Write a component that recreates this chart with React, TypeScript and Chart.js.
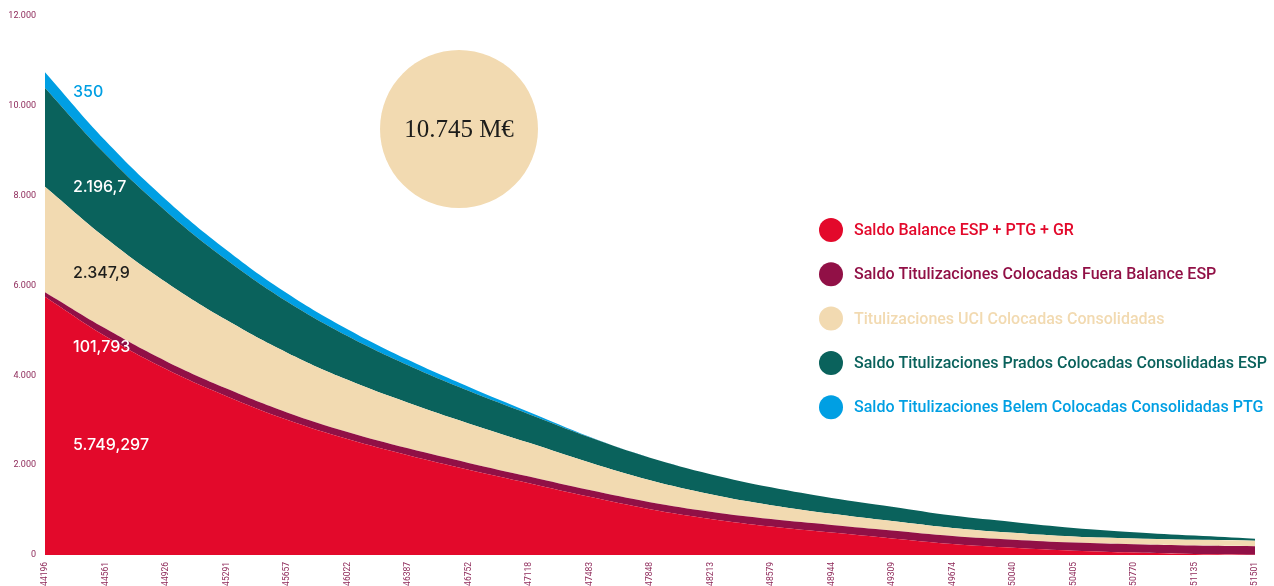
import React, { useEffect, useRef } from "react";
import { Chart, registerables } from "chart.js";

Chart.register(...registerables);

// Year-end dates (serial day numbers) on the horizontal axis
const periods = [
  "44196", "44561", "44926", "45291", "45657", "46022", "46387", "46752", "47118", "47483",
  "47848", "48213", "48579", "48944", "49309", "49674", "50040", "50405", "50770", "51135", "51501",
];

// Outstanding balances, millions of euros
const saldoBalance = [5749.297, 4870, 4140, 3535, 3010, 2580, 2220, 1900, 1599, 1295, 1021, 804, 634, 500, 370, 245, 160, 95, 55, 25, 8];
const fueraBalance = [101.793, 170, 175, 170, 165, 160, 155, 150, 148, 150, 155, 160, 165, 170, 175, 178, 180, 182, 183, 184, 185];
const uciConsolidadas = [2347.9, 2020, 1760, 1525, 1330, 1160, 1015, 880, 751, 615, 490, 391, 311, 248, 210, 180, 155, 135, 130, 128, 126];
const pradosConsolidadas = [2196.7, 1860, 1580, 1345, 1140, 975, 835, 725, 637, 560, 499, 444, 396, 353, 320, 275, 240, 190, 140, 95, 45];
const belemConsolidadas = [350, 300, 255, 215, 180, 150, 120, 90, 50, 15, 0, 0, 0, 0, 0, 0, 0, 0, 0, 0, 0];

const seriesNames = [
  "Saldo Balance ESP + PTG + GR",
  "Saldo Titulizaciones Colocadas Fuera Balance ESP",
  "Titulizaciones UCI Colocadas Consolidadas",
  "Saldo Titulizaciones Prados Colocadas Consolidadas ESP",
  "Saldo Titulizaciones Belem Colocadas Consolidadas PTG",
];
const seriesColors = ["#e3092b", "#911046", "#f2dab1", "#0a625c", "#009fe3"];
// colour of each series' value tag on the left
const tagColors = ["#ffffff", "#ffffff", "#1d1d1b", "#ffffff", "#009fe3"];
// vertical placement of the value tags, in axis units
const tagLevels = [2444, 4622, 6267, 8178, 10311];

const yTicks = [0, 2000, 4000, 6000, 8000, 10000, 12000];

function groupThousands(intPart: string): string {
  return intPart.replace(/\B(?=(\d{3})+(?!\d))/g, ".");
}

function formatEs(v: number): string {
  const [i, d] = String(v).split(".");
  return d ? `${groupThousands(i)},${d}` : groupThousands(i);
}

const seriesData = [saldoBalance, fueraBalance, uciConsolidadas, pradosConsolidadas, belemConsolidadas];

const overlayPlugin = {
  id: "overlay",
  afterDatasetsDraw(chart: any) {
    const { ctx, chartArea, scales } = chart;
    const y = scales.y;
    ctx.save();

    // value tags for the opening balances
    ctx.font = '500 16px "Inter", "Roboto", sans-serif';
    ctx.textBaseline = "middle";
    ctx.textAlign = "left";
    seriesData.forEach((arr, i) => {
      ctx.fillStyle = tagColors[i];
      ctx.fillText(formatEs(arr[0]), chartArea.left + 28, y.getPixelForValue(tagLevels[i]));
    });

    // total bubble
    const total = seriesData.reduce((s, arr) => s + arr[0], 0);
    const cx = chartArea.left + 414;
    const cy = 129;
    ctx.beginPath();
    ctx.arc(cx, cy, 79, 0, Math.PI * 2);
    ctx.fillStyle = "#f2dab1";
    ctx.fill();
    ctx.fillStyle = "#1d1d1b";
    ctx.textAlign = "center";
    ctx.font = '25px "Liberation Serif", "DejaVu Serif", serif';
    ctx.fillText(`${groupThousands(String(Math.floor(total)))} M€`, cx, cy + 1);

    // legend
    ctx.textAlign = "left";
    ctx.font = '500 16px "Roboto", sans-serif';
    chart.data.datasets.forEach((ds: any, i: number) => {
      const ly = 230 + i * 44.3;
      ctx.beginPath();
      ctx.arc(831, ly, 12, 0, Math.PI * 2);
      ctx.fillStyle = ds.backgroundColor;
      ctx.fill();
      ctx.fillText(ds.label, 854, ly + 1);
    });

    ctx.restore();
  },
};

export default function App() {
  const canvasRef = useRef<HTMLCanvasElement | null>(null);

  useEffect(() => {
    if (!canvasRef.current) return;
    const chart = new Chart(canvasRef.current, {
      type: "line",
      data: {
        labels: periods,
        datasets: seriesData.map((arr, i) => ({
          label: seriesNames[i],
          data: arr,
          backgroundColor: seriesColors[i],
          borderColor: seriesColors[i],
          borderWidth: 0,
          pointRadius: 0,
          pointHoverRadius: 0,
          fill: i === 0 ? "origin" : "-1",
          tension: 0.4,
        })),
      },
      options: {
        responsive: false,
        animation: false,
        layout: { padding: { left: 0, right: 19, top: 16, bottom: 0 } },
        plugins: { legend: { display: false }, tooltip: { enabled: false } },
        scales: {
          x: {
            type: "category",
            offset: false,
            grid: { display: false, drawTicks: false },
            border: { display: false },
            ticks: {
              autoSkip: false,
              minRotation: 90,
              maxRotation: 90,
              padding: 7,
              color: "#8e2a5a",
              font: { family: "Roboto, sans-serif", size: 8.5 },
            },
            afterFit: (s: any) => {
              s.height = 31;
            },
          },
          y: {
            stacked: true,
            min: 0,
            max: 12000,
            grid: { display: false, drawTicks: false },
            border: { display: false },
            afterBuildTicks: (s: any) => {
              s.ticks = yTicks.map((v) => ({ value: v }));
            },
            ticks: {
              padding: 9,
              color: "#8e2a5a",
              font: { family: "Roboto, sans-serif", size: 9 },
              callback: (v: any) => groupThousands(String(v)),
            },
            afterFit: (s: any) => {
              s.width = 45;
            },
          },
        },
      },
      plugins: [overlayPlugin],
    });
    return () => chart.destroy();
  }, []);

  return (
    <div style={{ position: "fixed", left: 0, top: 0, width: 1274, height: 586, background: "#fff" }}>
      <canvas ref={canvasRef} width={1274} height={586} />
    </div>
  );
}
